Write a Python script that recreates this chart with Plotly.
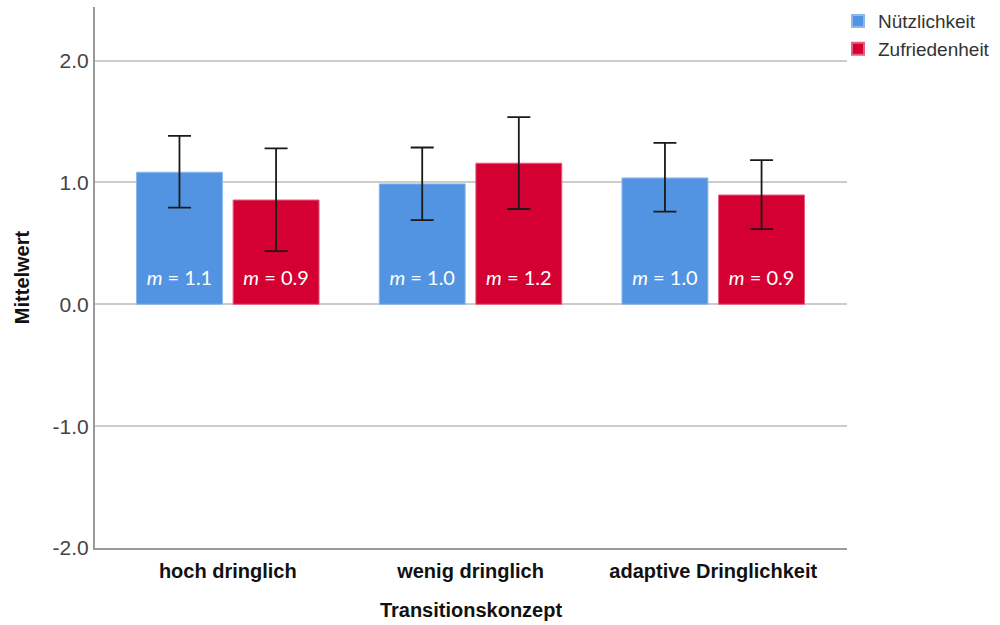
import plotly.graph_objects as go

# Mean ratings with 95% confidence intervals per transition concept
categories = ["hoch dringlich", "wenig dringlich", "adaptive Dringlichkeit"]
series_names = ["Nützlichkeit", "Zufriedenheit"]

nutz_mean = [1.084, 0.988, 1.037]
nutz_upper = [1.383, 1.287, 1.325]
nutz_lower = [0.793, 0.691, 0.760]

zufr_mean = [0.856, 1.158, 0.897]
zufr_upper = [1.280, 1.537, 1.183]
zufr_lower = [0.436, 0.782, 0.617]

y_ticks = [-2.0, -1.0, 0.0, 1.0, 2.0]

colors = ["#5294E2", "#D50032"]
outline = ["#8DB8EE", "#E5607F"]

bar_width = 0.354
offsets = [-0.376, 0.022]
x_idx = list(range(len(categories)))

fig = go.Figure()

series = [
    (nutz_mean, nutz_upper, nutz_lower),
    (zufr_mean, zufr_upper, zufr_lower),
]

for k, (mean, up, lo) in enumerate(series):
    fig.add_trace(go.Bar(
        name=series_names[k],
        x=x_idx,
        y=mean,
        width=bar_width,
        offset=offsets[k],
        marker=dict(color=colors[k], line=dict(color=outline[k], width=1)),
        error_y=dict(
            type="data",
            symmetric=False,
            array=[u - m for u, m in zip(up, mean)],
            arrayminus=[m - l for m, l in zip(mean, lo)],
            color="#1a1a1a",
            thickness=1.8,
            width=11.5,
        ),
        hoverinfo="skip",
    ))

# value labels near the bottom of each bar
for k, (mean, _, _) in enumerate(series):
    fig.add_trace(go.Scatter(
        x=[i + offsets[k] + bar_width / 2 for i in x_idx],
        y=[0.2] * len(mean),
        mode="text",
        text=[f"<i>m</i> = {v:.1f}" for v in mean],
        textfont=dict(family="Lato, Open Sans, sans-serif", size=20, color="white"),
        textposition="middle center",
        showlegend=False,
        hoverinfo="skip",
    ))

fig.update_layout(
    width=1000,
    height=625,
    margin=dict(l=95, r=153, t=7, b=77, autoexpand=False),
    paper_bgcolor="white",
    plot_bgcolor="white",
    font=dict(family="Liberation Sans, Arial, sans-serif", color="#222"),
    showlegend=True,
    legend=dict(
        x=0.988, y=1.009, xanchor="left", yanchor="top",
        font=dict(size=19, color="#333"),
        itemsizing="constant",
        tracegroupgap=0,
        bgcolor="rgba(0,0,0,0)",
    ),
    xaxis=dict(
        range=[-0.547, 2.551],
        tickmode="array",
        tickvals=x_idx,
        ticktext=[f"<b>{c}</b>" for c in categories],
        tickfont=dict(size=20, color="#111"),
        ticklabelstandoff=4,
        showgrid=False,
        zeroline=False,
        showline=True,
        linecolor="#9a9a9a",
        linewidth=2,
        ticks="",
        title=dict(text="<b>Transitionskonzept</b>", font=dict(size=20, color="#111"), standoff=22),
        fixedrange=True,
    ),
    yaxis=dict(
        range=[-2.0, 2.44],
        tickmode="array",
        tickvals=y_ticks,
        ticktext=[f"{v:.1f}" for v in y_ticks],
        tickfont=dict(size=21, color="#444"),
        showgrid=True,
        gridcolor="#cccccc",
        gridwidth=2,
        zeroline=True,
        zerolinecolor="#cccccc",
        zerolinewidth=2,
        showline=True,
        linecolor="#9a9a9a",
        linewidth=2,
        ticks="",
        title=dict(text="<b>Mittelwert</b>", font=dict(size=20, color="#111"), standoff=18),
        fixedrange=True,
    ),
)

fig.write_html("out.html")
